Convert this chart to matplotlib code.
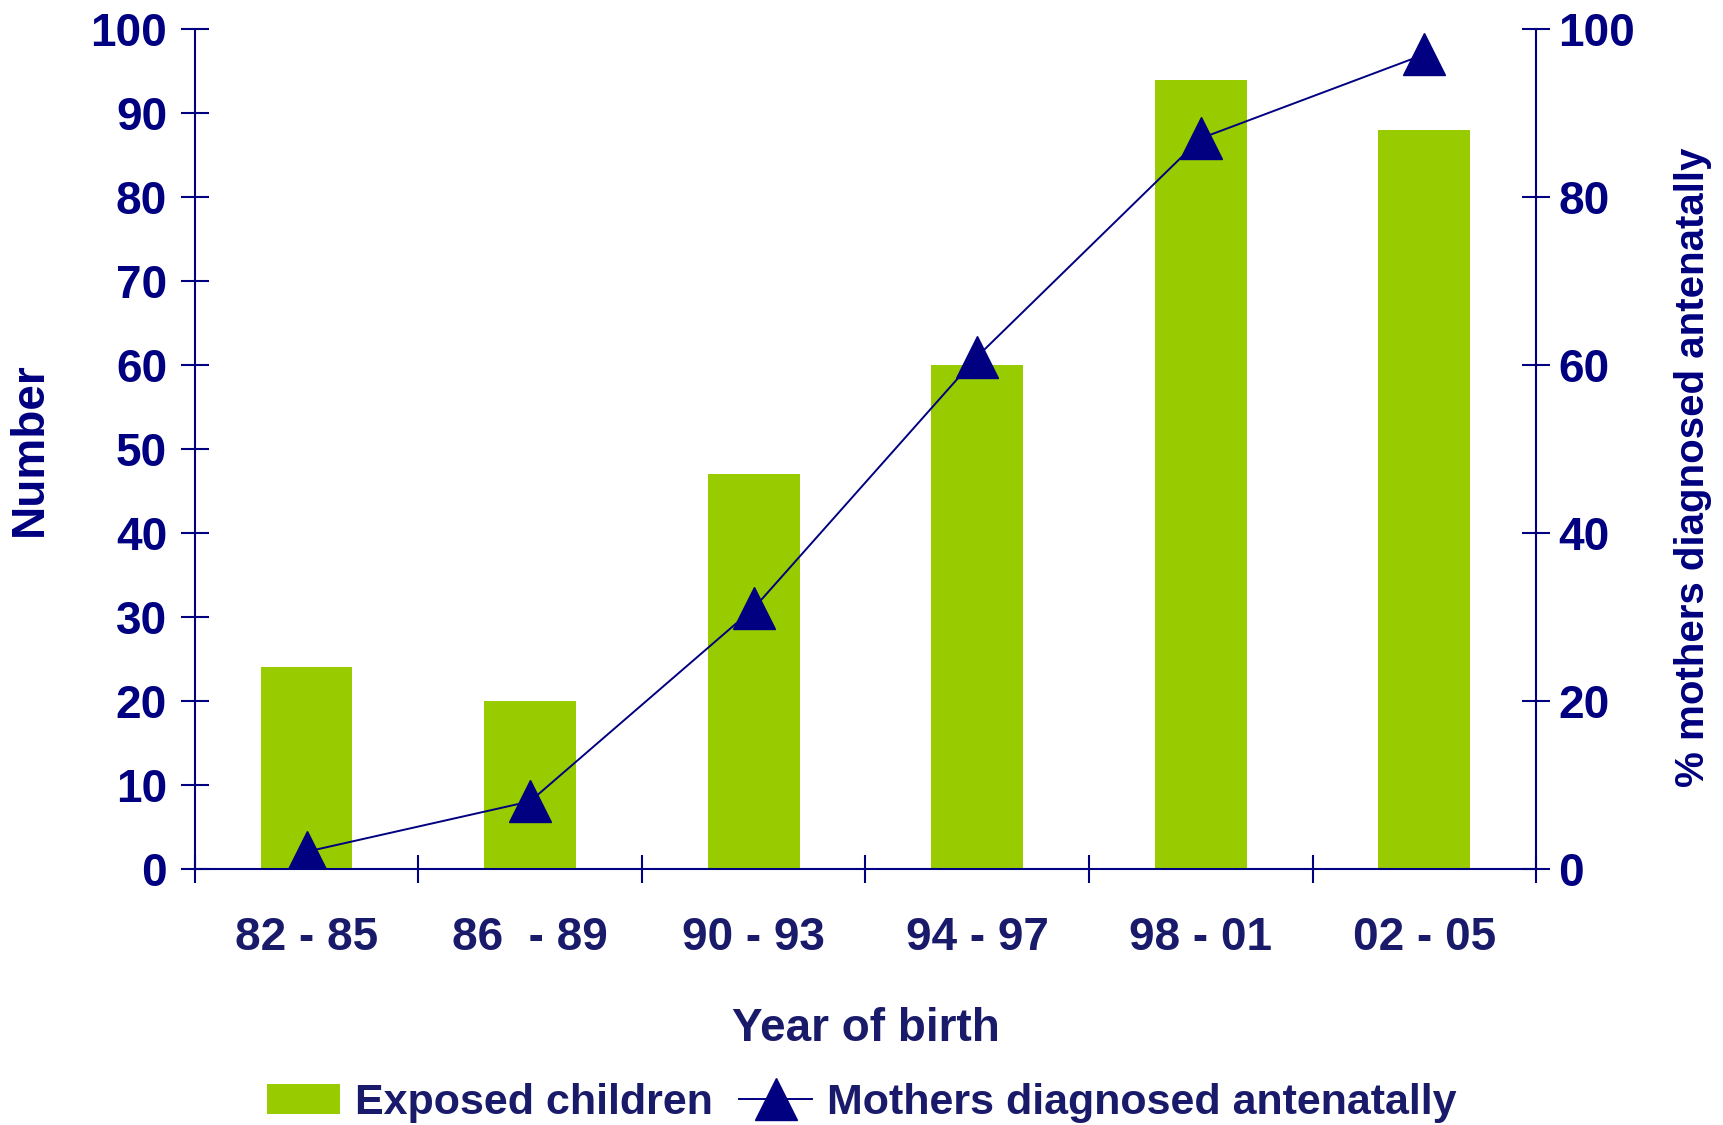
import numpy as np, matplotlib
matplotlib.use('Agg')
import matplotlib.pyplot as plt
from matplotlib.ticker import MultipleLocator, FixedLocator
plt.rcParams.update({'font.family': ['Liberation Sans', 'DejaVu Sans'], 'font.weight': 'bold',
                     'axes.labelweight': 'bold', 'font.size': 33})

NAVY = '#000080'
TXT = '#1a1a6b'
GREEN = '#99CC00'

periods = ['82 - 85', '86  - 89', '90 - 93', '94 - 97', '98 - 01', '02 - 05']
exposed = [24, 20, 47, 60, 94, 88]
pct_antenatal = [2, 8, 31, 61, 87, 97]

fig = plt.figure(figsize=(17.24, 11.25), dpi=100, facecolor='white')
ax = fig.add_axes([0.113, 0.228, 0.778, 0.746])
x = np.arange(len(periods))
bars = ax.bar(x, exposed, width=0.41, color=GREEN, label='Exposed children', zorder=2)
ax.set_xlim(-0.5, len(periods) - 0.5)
ax.set_ylim(0, 100)
ax.yaxis.set_major_locator(MultipleLocator(10))
ax.set_xticks(x)
ax.set_xticklabels(periods)
ax.xaxis.set_minor_locator(FixedLocator(np.arange(-0.5, len(periods), 1)))
ax.tick_params(axis='x', which='major', length=0, pad=34, colors=NAVY, labelcolor=TXT)
ax.tick_params(axis='x', which='minor', direction='inout', length=20, width=1.5, color=NAVY)
ax.tick_params(axis='y', direction='inout', length=20, width=1.5, color=NAVY, labelcolor=NAVY, pad=10)
for s in ['left', 'bottom']:
    ax.spines[s].set_color(NAVY); ax.spines[s].set_linewidth(1.5)
for s in ['top', 'right']:
    ax.spines[s].set_visible(False)
ax.set_ylabel('Number', color=NAVY, labelpad=28)
ax.set_xlabel('Year of birth', color=TXT, labelpad=34)

ax2 = ax.twinx()
line, = ax2.plot(x, pct_antenatal, color=NAVY, lw=1.4, marker='^', ms=30, label='Mothers diagnosed antenatally', zorder=3)
ax2.set_ylim(0, 100)
ax2.yaxis.set_major_locator(MultipleLocator(20))
ax2.tick_params(axis='y', direction='inout', length=20, width=1.5, color=NAVY, labelcolor=NAVY, pad=6)
for s in ['left', 'top', 'bottom']:
    ax2.spines[s].set_visible(False)
ax2.spines['right'].set_color(NAVY); ax2.spines['right'].set_linewidth(1.5)
ax2.set_ylabel('% mothers diagnosed antenatally', color=NAVY, fontsize=29, labelpad=28)
ax2.yaxis.label.set_y(0.478)

fig.legend([bars, line], ['Exposed children', 'Mothers diagnosed antenatally'], loc='lower center',
           bbox_to_anchor=(0.5, -0.033), ncol=2, frameon=False, handlelength=1.7, handletextpad=0.35,
           columnspacing=0.6, labelcolor=TXT, fontsize=31)

fig.savefig('out.png', dpi=100, facecolor='white')
